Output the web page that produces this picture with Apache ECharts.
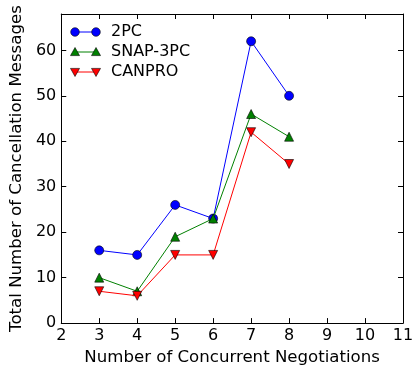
<!DOCTYPE html>
<html><head><meta charset="utf-8">
<script src="https://cdn.jsdelivr.net/npm/echarts@6/dist/echarts.min.js"></script>
<style>html,body{margin:0;padding:0;background:#fff}#c{width:420px;height:371px}</style>
</head><body><div id="c"></div>
<script>
const categories = [3, 4, 5, 6, 7, 8];
const twoPC = [16, 15, 26, 23, 62, 50];
const snap3PC = [10, 7, 19, 23, 46, 41];
const canpro = [7, 6, 15, 15, 42, 35];
const seriesNames = ['2PC', 'SNAP-3PC', 'CANPRO'];
const xTicks = [2, 3, 4, 5, 6, 7, 8, 9, 10, 11];
const yTicks = [0, 10, 20, 30, 40, 50, 60];

const font = 'DejaVu Sans';
const fs = 16;
const fsTitle = 16.6;
const chart = echarts.init(document.getElementById('c'), null, {renderer: 'canvas'});
const pairs = arr => categories.map((c, i) => [c, arr[i]]);
const tickIn = {show: true, inside: true, length: 5, lineStyle: {color: '#000', width: 1}};
const axLine = {show: true, onZero: false, lineStyle: {color: '#000', width: 1}};

const cols = ['#0000ff', '#008000', '#ff0000'];
const syms = ['circle', 'triangle', 'triangle'];
const rots = [0, 0, 180];
const datas = [twoPC, snap3PC, canpro];

const legendGraphics = [];
seriesNames.forEach((n, i) => {
  const y = 32 + i * 20;
  const xa = 75, xb = 96;
  legendGraphics.push({type: 'line', shape: {x1: xa, y1: y, x2: xb, y2: y}, style: {stroke: cols[i], lineWidth: 1}, z: 100});
  [xa, xb].forEach(x => {
    if (syms[i] === 'circle') {
      legendGraphics.push({type: 'circle', shape: {cx: x, cy: y, r: 4.3}, style: {fill: cols[i], stroke: '#000', lineWidth: 0.6}, z: 101});
    } else {
      const up = rots[i] === 0;
      const h = 4.5;
      const pts = up ? [[x, y - h], [x - h, y + h * 0.8], [x + h, y + h * 0.8]] : [[x, y + h], [x - h, y - h * 0.8], [x + h, y - h * 0.8]];
      legendGraphics.push({type: 'polygon', shape: {points: pts}, style: {fill: cols[i], stroke: '#000', lineWidth: 0.6}, z: 101});
    }
  });
  legendGraphics.push({type: 'text', x: 111, y: y, style: {text: n, font: fs + 'px "DejaVu Sans"', fill: '#000', verticalAlign: 'middle', align: 'left'}, z: 101});
});

chart.setOption({
  animation: false,
  grid: {left: 60, right: 17, top: 14, bottom: 46, containLabel: false},
  xAxis: [{
    type: 'value', min: 2, max: 11, interval: 1, position: 'bottom',
    name: 'Number of Concurrent Negotiations', nameLocation: 'middle', nameGap: 24,
    nameTextStyle: {fontFamily: font, fontSize: fsTitle, color: '#000'},
    axisLine: axLine, axisTick: tickIn, splitLine: {show: false},
    axisLabel: {fontFamily: font, fontSize: fs, color: '#000', margin: 5,
      formatter: v => xTicks.includes(v) ? String(v) : ''}
  }, {
    type: 'value', min: 2, max: 11, interval: 1, position: 'top',
    axisLine: axLine, axisTick: tickIn, splitLine: {show: false}, axisLabel: {show: false}
  }],
  yAxis: [{
    type: 'value', min: 0, max: 68, interval: 10, position: 'left',
    name: 'Total Number of Cancellation Messages', nameLocation: 'middle', nameGap: 34,
    nameTextStyle: {fontFamily: font, fontSize: fsTitle, color: '#000'},
    axisLine: axLine, axisTick: tickIn, splitLine: {show: false},
    axisLabel: {fontFamily: font, fontSize: fs, color: '#000', margin: 5,
      formatter: v => yTicks.includes(v) ? String(v) : ''}
  }, {
    type: 'value', min: 0, max: 68, interval: 10, position: 'right',
    axisLine: axLine, axisTick: tickIn, splitLine: {show: false}, axisLabel: {show: false}
  }],
  series: datas.map((d, i) => ({
    name: seriesNames[i], type: 'line', data: pairs(d),
    symbol: syms[i], symbolSize: 9, symbolRotate: rots[i], showAllSymbol: true,
    lineStyle: {color: cols[i], width: 1},
    itemStyle: {color: cols[i], borderColor: '#000', borderWidth: 0.6},
    emphasis: {disabled: true}, z: 3 + i
  })),
  graphic: legendGraphics
});
</script></body></html>
